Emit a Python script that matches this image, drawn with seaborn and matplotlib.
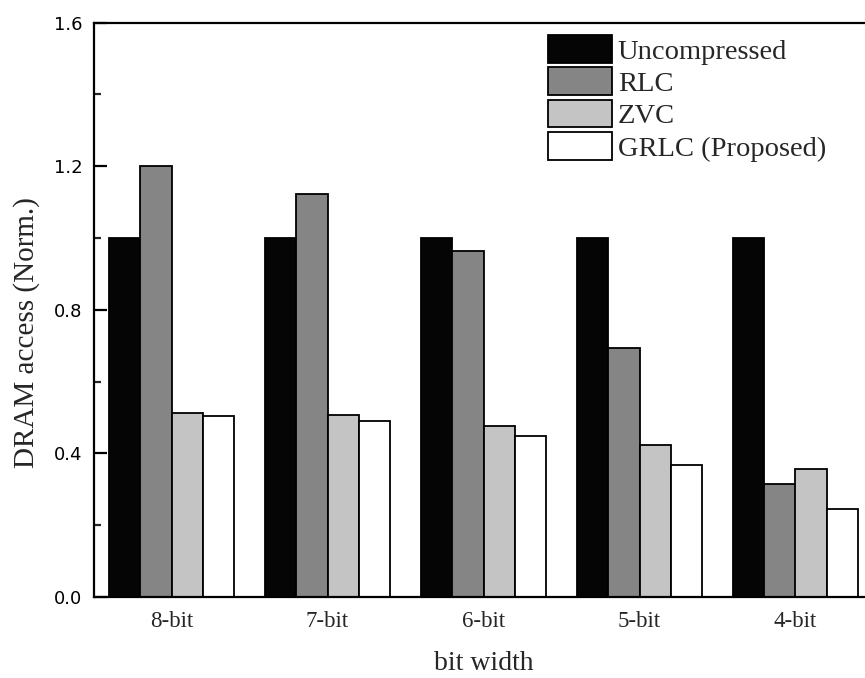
import matplotlib
matplotlib.use("Agg")
import matplotlib.pyplot as plt
from matplotlib.patches import Patch
from matplotlib.ticker import MultipleLocator
import seaborn as sns
import pandas as pd

# Normalized DRAM access per activation bit width
bit_widths = ["8-bit", "7-bit", "6-bit", "5-bit", "4-bit"]
schemes = ["Uncompressed", "RLC", "ZVC", "GRLC (Proposed)"]
uncompressed = [1.0, 1.0, 1.0, 1.0, 1.0]
rlc = [1.20, 1.123, 0.965, 0.693, 0.314]
zvc = [0.513, 0.506, 0.477, 0.423, 0.356]
grlc = [0.503, 0.490, 0.448, 0.367, 0.246]

series = {"Uncompressed": uncompressed, "RLC": rlc, "ZVC": zvc,
          "GRLC (Proposed)": grlc}
df = pd.DataFrame([
    {"bit width": bw, "scheme": s, "access": v}
    for s in schemes for bw, v in zip(bit_widths, series[s])
])

colors = {"Uncompressed": "#050505", "RLC": "#858585",
          "ZVC": "#c4c4c4", "GRLC (Proposed)": "#ffffff"}

sns.set_style("ticks")
plt.rcParams["font.family"] = ["DejaVu Sans"]
serif = ["Liberation Serif", "DejaVu Serif"]

fig = plt.figure(figsize=(8.65, 6.78), dpi=100)
# axes extends slightly past the right edge of the canvas
ax = fig.add_axes([93.5 / 865, 81 / 678, 780 / 865, 574.5 / 678])

sns.barplot(data=df, x="bit width", y="access", hue="scheme",
            hue_order=schemes, order=bit_widths, palette=colors,
            width=0.8, gap=0, edgecolor="black", linewidth=1.3,
            legend=False, ax=ax)

ax.set_xlim(-0.5, 4.5)
ax.set_ylim(0, 1.6)
ax.yaxis.set_major_locator(MultipleLocator(0.4))
ax.yaxis.set_minor_locator(MultipleLocator(0.2))
ax.yaxis.set_major_formatter(matplotlib.ticker.FormatStrFormatter("%.1f"))

for side in ["left", "top", "bottom", "right"]:
    ax.spines[side].set_linewidth(1.6)
    ax.spines[side].set_color("black")

ax.tick_params(axis="y", which="major", direction="in", length=9,
               width=1.6, labelsize=13, pad=8, colors="black")
ax.tick_params(axis="y", which="minor", direction="in", length=5, width=1.6)
ax.tick_params(axis="x", which="both", length=0, pad=10)
for lbl in ax.get_xticklabels():
    lbl.set_fontfamily(serif)
    lbl.set_fontsize(16.5)

ax.set_xlabel("bit width", fontsize=20, family=serif, labelpad=14)
ax.set_ylabel("DRAM access (Norm.)", fontsize=21, family=serif, labelpad=10)
ax.yaxis.label.set_y(0.46)

handles = [Patch(facecolor=colors[s], edgecolor="black", linewidth=1.3,
                 label=s) for s in schemes]
leg = ax.legend(handles=handles, loc="upper left",
                bbox_to_anchor=(548 / 865, 1 - 35 / 678),
                bbox_transform=fig.transFigure, frameon=False,
                prop={"family": serif, "size": 20.5},
                handlelength=2.25, handleheight=1.12, handletextpad=0.2,
                labelspacing=0.1, borderpad=0, borderaxespad=0)

fig.savefig("out.png", dpi=100)
